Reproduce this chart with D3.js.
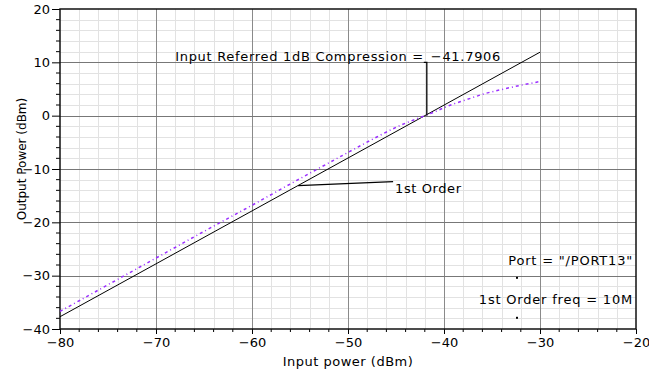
<!DOCTYPE html>
<html>
<head>
<meta charset="utf-8">
<script src="https://cdn.jsdelivr.net/npm/d3@7"></script>
<style>
  body { margin: 0; background: #fff; }
  text { font-family: "DejaVu Sans", sans-serif; fill: #000; }
</style>
</head>
<body>
<div class="chart"></div>
<script>
// measured curve: output power vs input power
var inputPower = [-80, -75, -70, -65, -60, -55, -50, -47, -45, -44, -43, -42, -41, -40, -39, -38, -37, -36, -34, -32, -30];
var outputPower = [-36.7, -31.7, -26.7, -21.7, -16.8, -11.8, -6.9, -4.0, -2.2, -1.4, -0.7, 0.0, 0.7, 1.5, 2.2, 2.8, 3.4, 4.0, 4.9, 5.7, 6.4];

// 1st order extrapolation line
var firstOrderIn = [-80, -30];
var firstOrderOut = [-37.7, 11.9];

var xTicks = [-80, -70, -60, -50, -40, -30, -20];
var yTicks = [-40, -30, -20, -10, 0, 10, 20];

var compressionPoint = -41.7906;
var firstOrderLabelAt = -55.2;

var svgWidth = 649, svgHeight = 372;
var margin = { top: 9, right: 13, bottom: 43, left: 60 };
var width = svgWidth - margin.left - margin.right;
var height = svgHeight - margin.top - margin.bottom;

var svg = d3.select(".chart").append("svg")
  .attr("width", svgWidth)
  .attr("height", svgHeight);

var chartGroup = svg.append("g")
  .attr("transform", `translate(${margin.left}, ${margin.top})`);

var x = d3.scaleLinear().domain([-80, -20]).range([0, width]);
var y = d3.scaleLinear().domain([-40, 20]).range([height, 0]);

// minor grid every 2 units
var xMinor = d3.range(-80, -20, 2).filter(d => d % 10 !== 0);
var yMinor = d3.range(-40, 20, 2).filter(d => d % 10 !== 0);

chartGroup.append("g").selectAll("line").data(xMinor).enter().append("line")
  .attr("x1", d => Math.round(x(d)) + 0.5).attr("x2", d => Math.round(x(d)) + 0.5)
  .attr("y1", 0).attr("y2", height)
  .attr("stroke", "#e2e2e2");
chartGroup.append("g").selectAll("line").data(yMinor).enter().append("line")
  .attr("y1", d => Math.round(y(d)) + 0.5).attr("y2", d => Math.round(y(d)) + 0.5)
  .attr("x1", 0).attr("x2", width)
  .attr("stroke", "#e2e2e2");

// major grid
chartGroup.append("g").selectAll("line").data(xTicks.slice(1, -1)).enter().append("line")
  .attr("x1", d => Math.round(x(d)) + 0.5).attr("x2", d => Math.round(x(d)) + 0.5)
  .attr("y1", 0).attr("y2", height)
  .attr("stroke", "#8a8a8a");
chartGroup.append("g").selectAll("line").data(yTicks.slice(1, -1)).enter().append("line")
  .attr("y1", d => Math.round(y(d)) + 0.5).attr("y2", d => Math.round(y(d)) + 0.5)
  .attr("x1", 0).attr("x2", width)
  .attr("stroke", "#777");

// axes
var bottomAxis = d3.axisBottom(x).tickValues(xTicks).tickSize(5).tickPadding(4);
var leftAxis = d3.axisLeft(y).tickValues(yTicks).tickSize(8).tickPadding(2);

var xAxisG = chartGroup.append("g").attr("transform", `translate(0,${height})`).call(bottomAxis);
var yAxisG = chartGroup.append("g").call(leftAxis);
[xAxisG, yAxisG].forEach(function(g) {
  g.select(".domain").remove();
  g.selectAll("line").attr("stroke", "#000");
  g.selectAll("text").attr("font-size", "13px").attr("font-family", "DejaVu Sans").attr("fill", "#000");
});

// minor ticks
chartGroup.append("g").selectAll("line").data(xMinor).enter().append("line")
  .attr("x1", d => x(d)).attr("x2", d => x(d))
  .attr("y1", height).attr("y2", height + 3)
  .attr("stroke", "#000");
chartGroup.append("g").selectAll("line").data(yMinor).enter().append("line")
  .attr("y1", d => y(d)).attr("y2", d => y(d))
  .attr("x1", 0).attr("x2", -4)
  .attr("stroke", "#000");

// plot frame
chartGroup.append("rect")
  .attr("x", 0).attr("y", 0).attr("width", width).attr("height", height)
  .attr("fill", "none").attr("stroke", "#111").attr("stroke-width", 1.5);

// curves
var line = d3.line().x(d => x(d[0])).y(d => y(d[1]));

chartGroup.append("path")
  .datum(d3.zip(firstOrderIn, firstOrderOut))
  .attr("d", line)
  .attr("fill", "none").attr("stroke", "#000").attr("stroke-width", 1);

chartGroup.append("path")
  .datum(d3.zip(inputPower, outputPower))
  .attr("d", d3.line().curve(d3.curveMonotoneX).x(d => x(d[0])).y(d => y(d[1])))
  .attr("fill", "none").attr("stroke", "#9b30ff").attr("stroke-width", 1.5)
  .attr("stroke-dasharray", "3,3,1,3");

// compression annotation
var fo = d3.scaleLinear().domain(firstOrderIn).range(firstOrderOut);
var cx = x(compressionPoint), cy = y(fo(compressionPoint)) + 1;
chartGroup.append("text")
  .attr("x", x(-68)).attr("y", y(10) - 1)
  .attr("font-size", "13px").attr("letter-spacing", "0.7px")
  .text("Input Referred 1dB Compression =");
chartGroup.append("text")
  .attr("x", cx + 4).attr("y", y(10) - 1)
  .attr("font-size", "13px").attr("letter-spacing", "0.7px")
  .text(compressionPoint.toString().replace("-", "\u2212"));
chartGroup.append("path")
  .attr("d", `M${cx - 3},${y(10)}H${cx}V${cy}`)
  .attr("fill", "none").attr("stroke", "#000").attr("stroke-width", 1.3);

// 1st order label
var lx = x(firstOrderLabelAt), ly = y(fo(firstOrderLabelAt));
chartGroup.append("line")
  .attr("x1", lx).attr("y1", ly).attr("x2", x(-45.3)).attr("y2", ly - 4)
  .attr("stroke", "#000").attr("stroke-width", 1.3);
chartGroup.append("text")
  .attr("x", x(-45.1)).attr("y", ly + 7)
  .attr("font-size", "13px").attr("letter-spacing", "0.6px")
  .text("1st Order");

// info labels bottom right
chartGroup.append("text")
  .attr("x", width - 3).attr("y", y(-28))
  .attr("text-anchor", "end").attr("font-size", "13px").attr("letter-spacing", "0.8px")
  .text("Port = \"/PORT13\"");
chartGroup.append("text")
  .attr("x", width - 3).attr("y", y(-35.3))
  .attr("text-anchor", "end").attr("font-size", "13px").attr("letter-spacing", "0.8px")
  .text("1st Order freq = 10M");
chartGroup.append("g").selectAll("rect").data([-30.4, -37.9]).enter().append("rect")
  .attr("x", x(-32.5)).attr("y", d => y(d) - 1).attr("width", 2).attr("height", 2)
  .attr("fill", "#000");

// axis titles
chartGroup.append("text")
  .attr("transform", `translate(${width / 2}, ${height + 37})`)
  .attr("text-anchor", "middle").attr("font-size", "13px").attr("letter-spacing", "0.5px")
  .text("Input power (dBm)");
chartGroup.append("text")
  .attr("transform", `translate(${-34}, ${150})rotate(270)`)
  .attr("text-anchor", "middle").attr("font-size", "12px")
  .text("Output Power (dBm)");
</script>
</body>
</html>
